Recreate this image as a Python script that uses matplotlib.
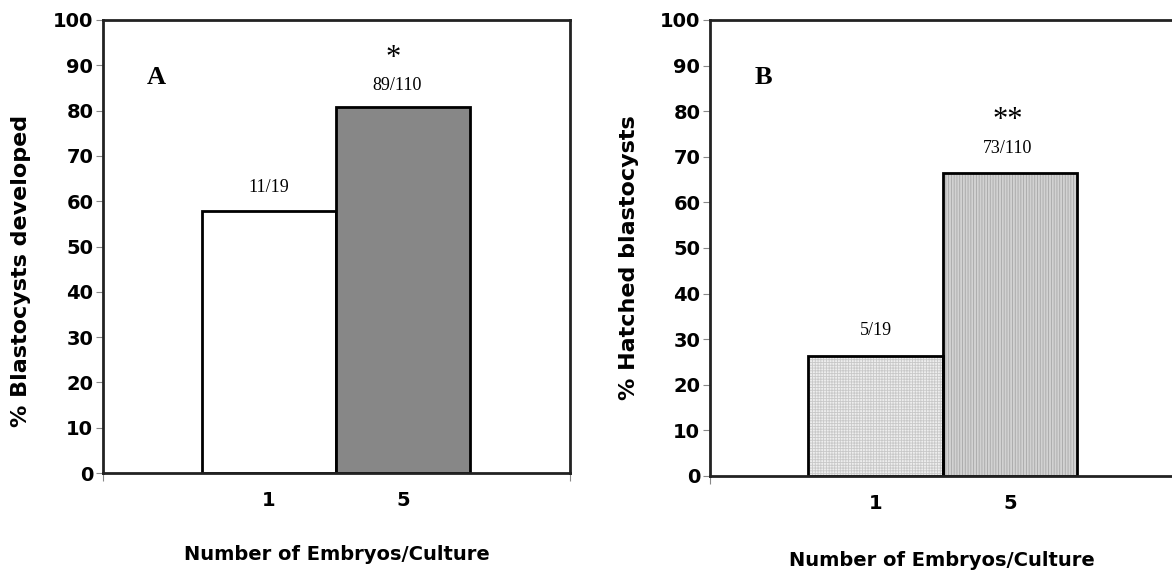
import matplotlib
matplotlib.use('Agg')
from matplotlib import pyplot as plt

cultures = ['1', '5']
blast_pct = [57.9, 80.9]
blast_counts = ['11/19', '89/110']
hatched_pct = [26.3, 66.4]
hatched_counts = ['5/19', '73/110']

plt.rcParams['hatch.linewidth'] = 0.6

fig = plt.figure(figsize=(11.72, 5.73), dpi=100)
ax_a = fig.add_axes([0.0879, 0.1745, 0.3985, 0.7906])
ax_b = fig.add_axes([0.6058, 0.1693, 0.3960, 0.7958])

SANS = 'DejaVu Sans'
SERIF = 'Liberation Serif'
pos = [0, 1]


def style_axis(ax, ylabel, xlim, ylab_xy, xlab_y, right_spine=True):
    ax.set_xlim(*xlim)
    ax.set_ylim(0, 100)
    ax.set_yticks(range(0, 101, 10))
    ax.set_xticks(pos)
    ax.set_xticklabels(cultures)
    for lab in ax.get_yticklabels() + ax.get_xticklabels():
        lab.set_fontfamily(SANS)
        lab.set_fontweight('bold')
        lab.set_fontsize(14)
    ax.tick_params(axis='y', length=5, width=0.8, color='#888888', pad=2)
    ax.tick_params(axis='x', length=0, pad=13)
    ax.set_xticks(xlim, minor=True)
    ax.tick_params(axis='x', which='minor', length=6, width=0.8, color='#888888')
    for s in ax.spines.values():
        s.set_linewidth(2)
        s.set_color('#222222')
    if not right_spine:
        ax.spines['right'].set_visible(False)
    ax.set_ylabel(ylabel, fontfamily=SANS, fontweight='bold', fontsize=16)
    ax.yaxis.set_label_coords(*ylab_xy)
    ax.set_xlabel('Number of Embryos/Culture', fontfamily=SANS, fontweight='bold',
                  fontsize=14)
    ax.xaxis.set_label_coords(0.5, xlab_y)


# panel A
ax_a.bar(pos[0], blast_pct[0], width=1.0, color='white', edgecolor='black', linewidth=2)
ax_a.bar(pos[1], blast_pct[1], width=1.0, color='#878787', edgecolor='black', linewidth=2)
style_axis(ax_a, '% Blastocysts developed', (-1.24, 2.25), (-0.155, 0.446), -0.158)
ax_a.text(-0.84, 87.4, 'A', fontfamily=SERIF, fontweight='bold', fontsize=19,
          ha='center', va='center')
ax_a.text(pos[0], blast_pct[0] + 5.2, blast_counts[0], fontfamily=SERIF, fontsize=13,
          ha='center', va='center')
ax_a.text(pos[1] - 0.04, blast_pct[1] + 4.7, blast_counts[1], fontfamily=SERIF, fontsize=13,
          ha='center', va='center')
ax_a.text(pos[1] - 0.07, 91.5, '*', fontfamily=SERIF, fontsize=22,
          ha='center', va='center')

# panel B
ax_b.bar(pos[0], hatched_pct[0], width=1.0, color='#eeeeee', edgecolor='#c8c8c8',
         hatch='++++++', linewidth=0)
ax_b.bar(pos[1], hatched_pct[1], width=1.0, color='#d2d2d2', edgecolor='#a6a6a6',
         hatch='||||||', linewidth=0)
ax_b.bar(pos, hatched_pct, width=1.0, color='none', edgecolor='black', linewidth=2)
style_axis(ax_b, '% Hatched blastocysts', (-1.23, 2.22), (-0.152, 0.478), -0.165,
           right_spine=False)
ax_b.text(-0.83, 87.3, 'B', fontfamily=SERIF, fontweight='bold', fontsize=19,
          ha='center', va='center')
ax_b.text(pos[0], hatched_pct[0] + 5.7, hatched_counts[0], fontfamily=SERIF, fontsize=13,
          ha='center', va='center')
ax_b.text(pos[1] - 0.02, hatched_pct[1] + 5.5, hatched_counts[1], fontfamily=SERIF,
          fontsize=13, ha='center', va='center')
ax_b.text(pos[1] - 0.02, 78.0, '**', fontfamily=SERIF, fontsize=22,
          ha='center', va='center')

fig.savefig('out.png', dpi=100)
